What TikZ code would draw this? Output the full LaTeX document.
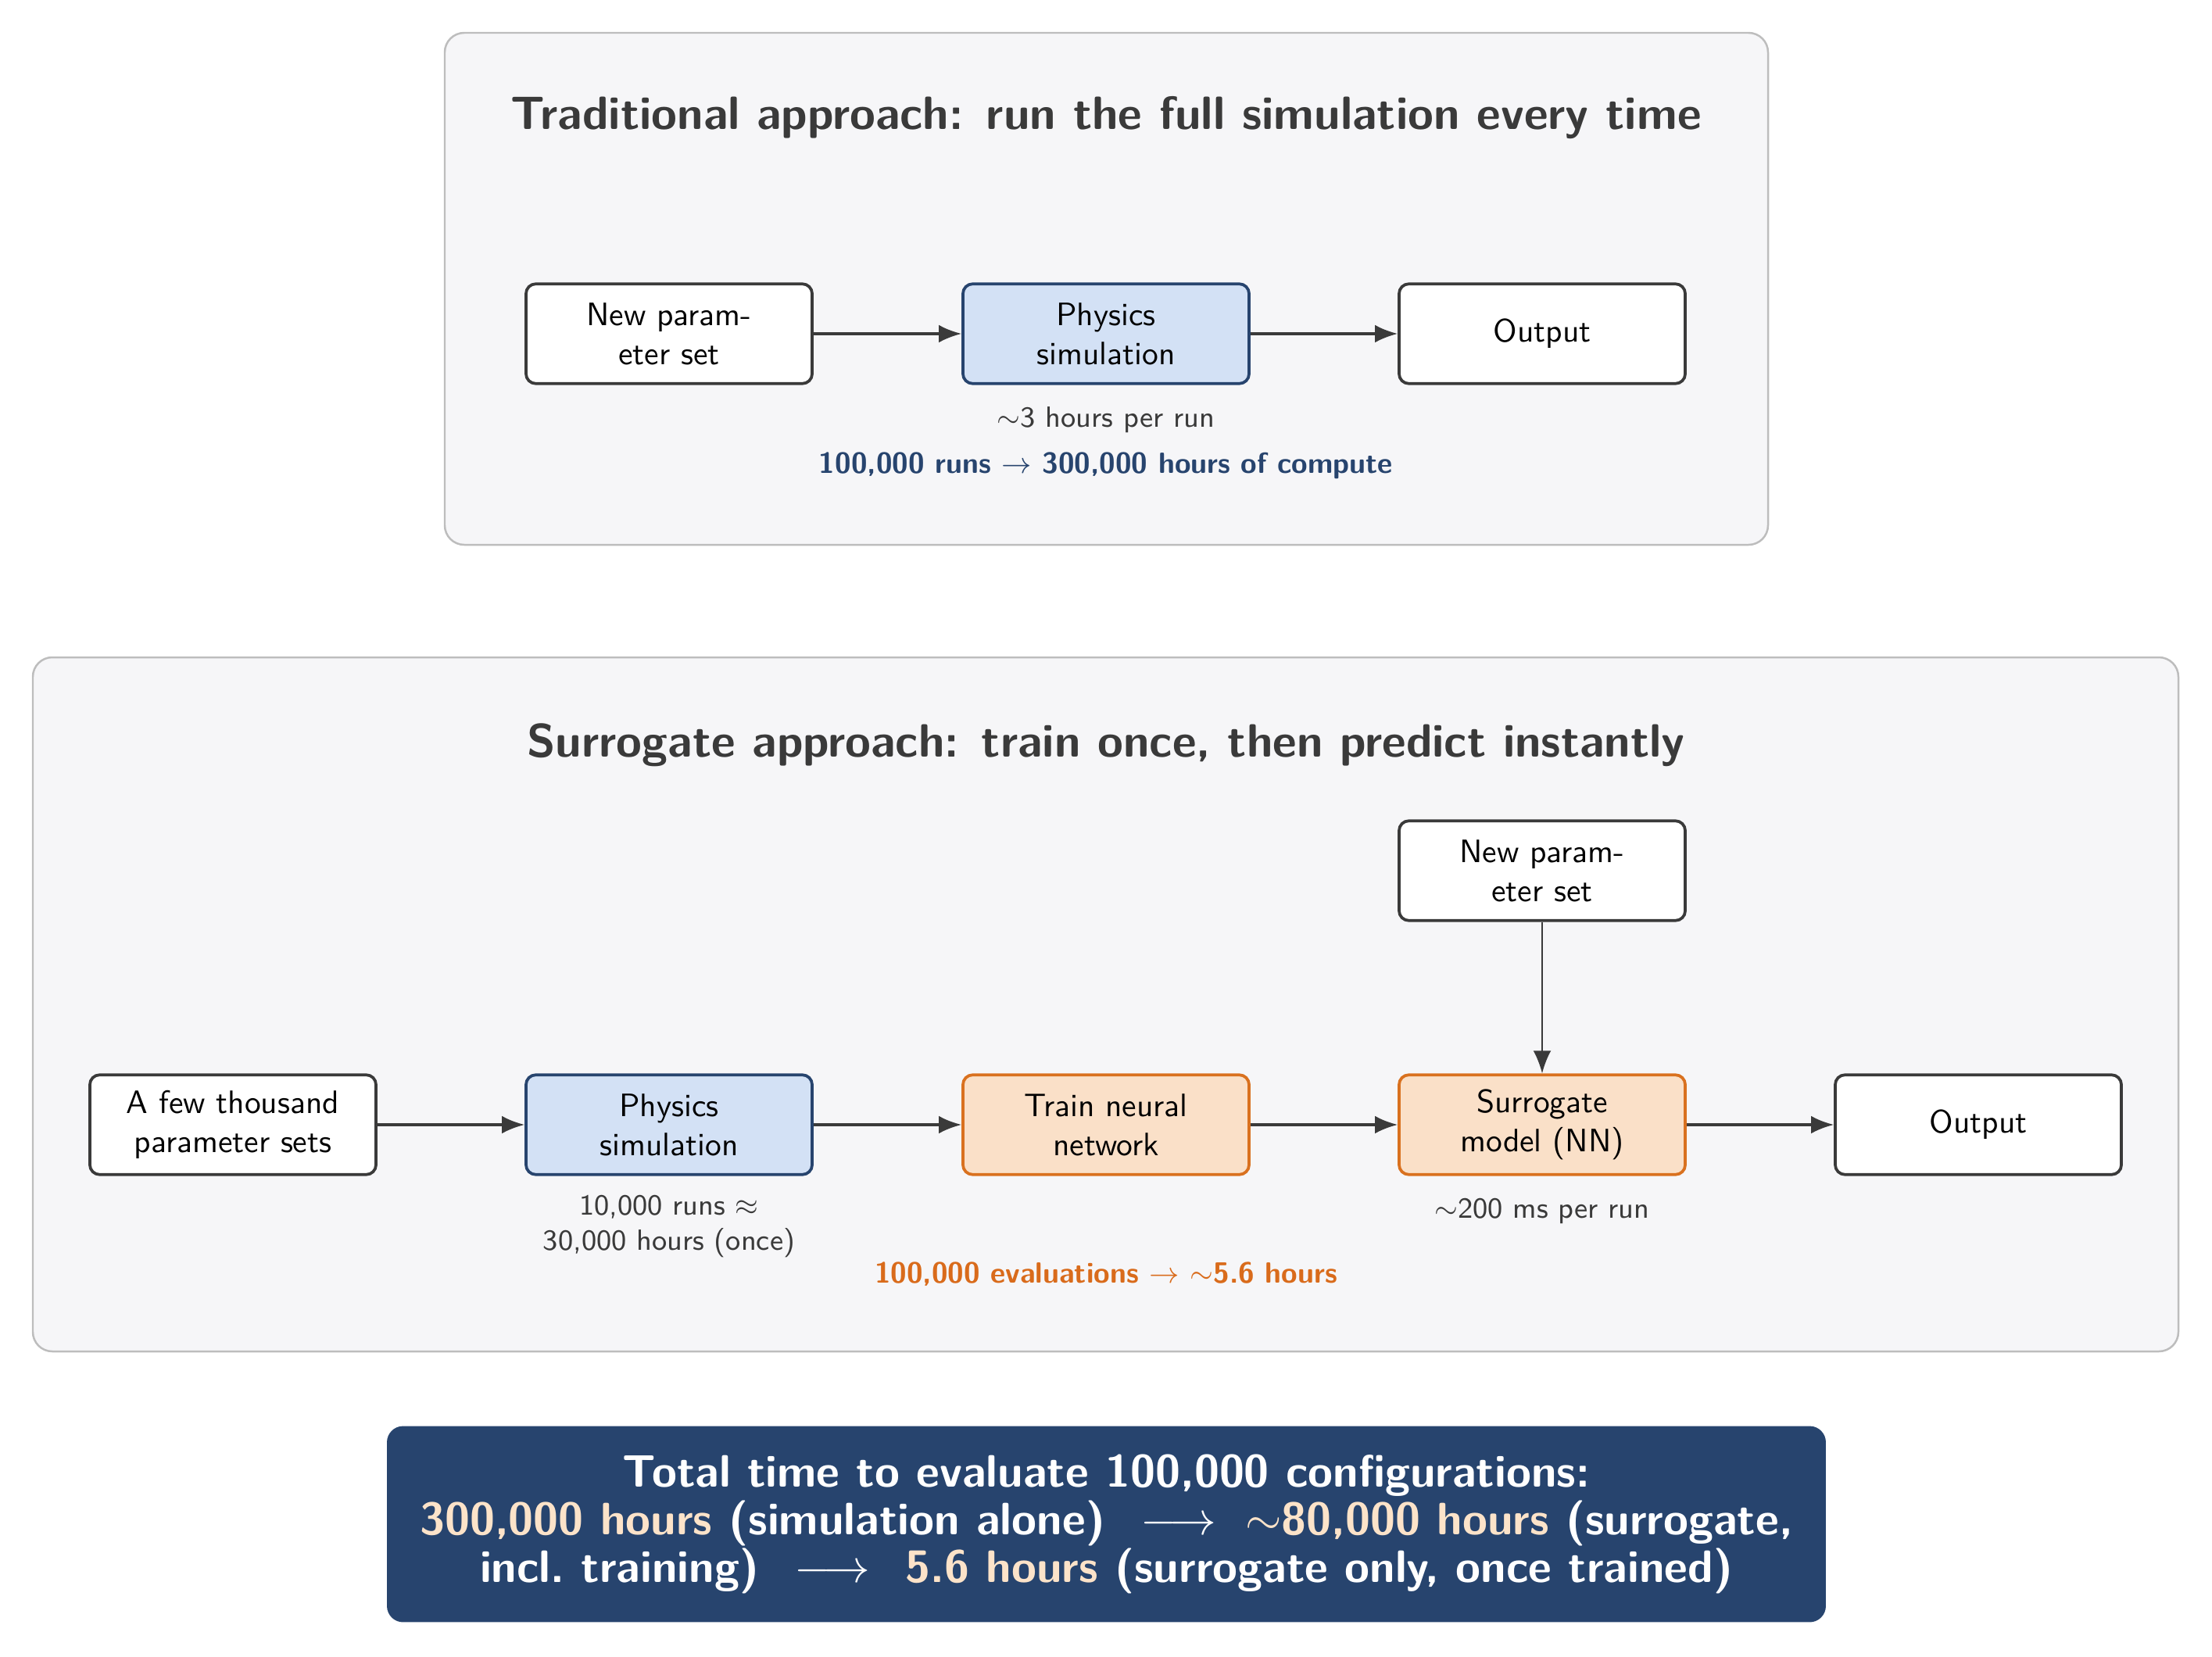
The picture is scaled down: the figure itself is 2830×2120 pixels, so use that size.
\documentclass[tikz,border=0pt]{standalone}
\usetikzlibrary{arrows.meta}
\definecolor{panelfill}{HTML}{F6F6F8}
\definecolor{panelline}{HTML}{BDBDBD}
\definecolor{ink}{HTML}{3A3A3A}
\definecolor{blueline}{HTML}{27446E}
\definecolor{bluefill}{HTML}{D3E1F5}
\definecolor{orline}{HTML}{D9711F}
\definecolor{orfill}{HTML}{FAE0C8}
\definecolor{ortext}{HTML}{D96B1B}
\definecolor{peach}{HTML}{FCE3C9}
\begin{document}
\begin{tikzpicture}[x=0.0084667cm,y=-0.0084667cm, font=\sffamily,
  panel/.style={draw=panelline, fill=panelfill, rounded corners=6pt, line width=0.6pt},
  box/.style={draw=ink, fill=white, rounded corners=3pt, line width=0.9pt, minimum width=3.1cm, minimum height=1.08cm, align=center, text=black, inner sep=2pt},
  simbox/.style={box, draw=blueline, fill=bluefill},
  nnbox/.style={box, draw=orline, fill=orfill},
  flow/.style={-{Latex[length=7pt,width=5.5pt]}, draw=ink, line width=0.8pt},
  paneltitle/.style={font=\sffamily\Large\bfseries, text=ink},
  note/.style={font=\sffamily\small, text=ink, align=center},
  banner/.style={fill=blueline, rounded corners=5pt, minimum width=15.59cm, minimum height=2.125cm, align=center, text=white, font=\sffamily\fontsize{14}{14.7}\selectfont\bfseries}
]
\useasboundingbox (0,0) rectangle (2830,2120);

% ---------- top panel ----------
\path[panel] (569,42) rectangle (2262,697);
\node[paneltitle] (t1) at (1415,151) {Traditional approach: run the full simulation every time};
\node[box] (p1) at (856,427) {New param-\\eter set};
\node[simbox] (s1) at (1415,427) {Physics\\simulation};
\node[box] (o1) at (1973,427) {Output};
\draw[flow] (p1) -- (s1);
\draw[flow] (s1) -- (o1);
\node[note] (n1) at (1415,537) {$\sim$3 hours per run};
\node[note, font=\sffamily\small\bfseries, text=blueline] (n2) at (1415,596) {100,000 runs $\rightarrow$ 300,000 hours of compute};

% ---------- bottom panel ----------
\path[panel] (42,841) rectangle (2787,1729);
\node[paneltitle] (t2) at (1415,953) {Surrogate approach: train once, then predict instantly};
\node[box] (a2) at (298,1439) {A few thousand\\parameter sets};
\node[simbox] (s2) at (856,1439) {Physics\\simulation};
\node[nnbox] (tr) at (1415,1439) {Train neural\\network};
\node[nnbox] (sm) at (1973,1439) {Surrogate\\model (NN)};
\node[box] (o2) at (2531,1439) {Output};
\node[box] (p2) at (1973,1114) {New param-\\eter set};
\draw[flow] (a2) -- (s2);
\draw[flow] (s2) -- (tr);
\draw[flow] (tr) -- (sm);
\draw[flow] (sm) -- (o2);
\draw[flow, line width=0.6pt] (p2) -- (sm);
\node[note] (n3) at (856,1569) {10,000 runs $\approx$\\30,000 hours (once)};
\node[note] (n4) at (1973,1549) {$\sim$200 ms per run};
\node[note, font=\sffamily\small\bfseries, text=ortext] (n5) at (1415,1630) {100,000 evaluations $\rightarrow$ $\sim$5.6 hours};

% ---------- banner ----------
\node[banner] (b) at (1415.5,1950) {Total time to evaluate 100,000 configurations:\\
{\color{peach}300,000 hours} (simulation alone)\hspace{11pt}$\longrightarrow$\hspace{9pt}{\color{peach}$\sim$80,000 hours} (surrogate,\\
incl.\ training)\hspace{11pt}$\longrightarrow$\hspace{11pt}{\color{peach}5.6 hours} (surrogate only, once trained)};
\end{tikzpicture}
\end{document}
